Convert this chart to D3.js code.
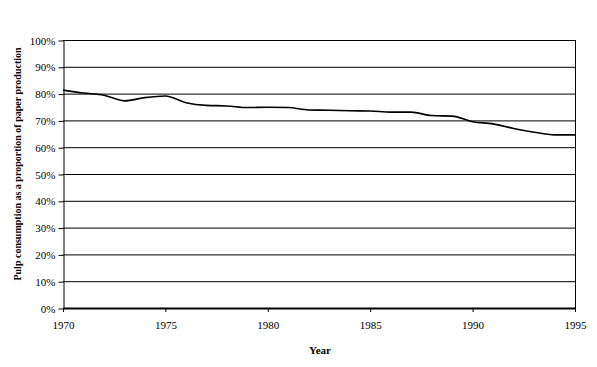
<!DOCTYPE html>
<html>
<head>
<meta charset="utf-8">
<script src="https://cdn.jsdelivr.net/npm/d3@7"></script>
<style>
  body { margin: 0; background: #fff; }
  text { font-family: "Liberation Serif", "Times New Roman", serif; fill: #000; }
</style>
</head>
<body>
<svg id="chart" width="597" height="367"></svg>
<script>
// Jahre und Werte (Anteil Zellstoffverbrauch an Papierproduktion, in %)
var years = [1970, 1971, 1972, 1973, 1974, 1975, 1976, 1977, 1978, 1979, 1980, 1981, 1982,
             1983, 1984, 1985, 1986, 1987, 1988, 1989, 1990, 1991, 1992, 1993, 1994, 1995];
var share = [81.3, 80.2, 79.4, 77.3, 78.5, 79.1, 76.6, 75.6, 75.4, 74.8, 74.9, 74.8, 73.9,
             73.8, 73.6, 73.5, 73.1, 73.1, 71.8, 71.6, 69.5, 68.7, 67.0, 65.6, 64.6, 64.6];
var yTicks = [0, 10, 20, 30, 40, 50, 60, 70, 80, 90, 100];
var xTicks = [1970, 1975, 1980, 1985, 1990, 1995];

var svg = d3.select("#chart");
var m = {left: 63, right: 575, top: 40, bottom: 308};

var x = d3.scaleLinear().domain([1970, 1995]).range([m.left, m.right]);
var y = d3.scaleLinear().domain([0, 100]).range([m.bottom, m.top]);

// Gitterlinien
svg.append("g")
  .selectAll("line")
  .data(yTicks.filter(function(d){ return d > 0; }))
  .join("line")
  .attr("x1", m.left).attr("x2", m.right)
  .attr("y1", function(d){ return y(d) + 0.5; })
  .attr("y2", function(d){ return y(d) + 0.5; })
  .attr("stroke", "#000").attr("stroke-width", 1);

// rechter Rand
svg.append("line")
  .attr("x1", m.right + 0.5).attr("x2", m.right + 0.5)
  .attr("y1", m.top).attr("y2", m.bottom)
  .attr("stroke", "#000");

// y-Achse
var yAxis = svg.append("g")
  .attr("transform", "translate(" + (m.left + 0.5) + ",0.5)")
  .call(d3.axisLeft(y).tickValues(yTicks).tickSize(5).tickSizeOuter(0)
    .tickFormat(function(d){ return d + "%"; }));
yAxis.select(".domain").attr("stroke", "#000");
yAxis.selectAll("text")
  .attr("x", -8)
  .style("font-family", "Liberation Serif, serif")
  .style("font-size", "11px");

// x-Achse
var xAxis = svg.append("g")
  .attr("transform", "translate(0," + m.bottom + ")")
  .call(d3.axisBottom(x).tickValues(xTicks).tickSize(4).tickSizeOuter(0)
    .tickFormat(d3.format("d")));
xAxis.select(".domain").attr("stroke", "#000").attr("stroke-width", 2);
xAxis.selectAll("text")
  .attr("y", 13)
  .style("font-family", "Liberation Serif, serif")
  .style("font-size", "11px");

// Linie
var line = d3.line()
  .x(function(d, i){ return x(years[i]); })
  .y(function(d){ return y(d); })
  .curve(d3.curveMonotoneX);

svg.append("path")
  .datum(share)
  .attr("d", line)
  .attr("fill", "none")
  .attr("stroke", "#000")
  .attr("stroke-width", 1.6);

// Achsentitel
svg.append("text")
  .attr("x", 320).attr("y", 354)
  .attr("text-anchor", "middle")
  .style("font-size", "11px")
  .style("font-weight", "bold")
  .text("Year");

svg.append("text")
  .attr("transform", "translate(21,164) rotate(-90)")
  .attr("text-anchor", "middle")
  .style("font-size", "10px")
  .style("font-weight", "bold")
  .text("Pulp consumption as a proportion of paper production");
</script>
</body>
</html>
